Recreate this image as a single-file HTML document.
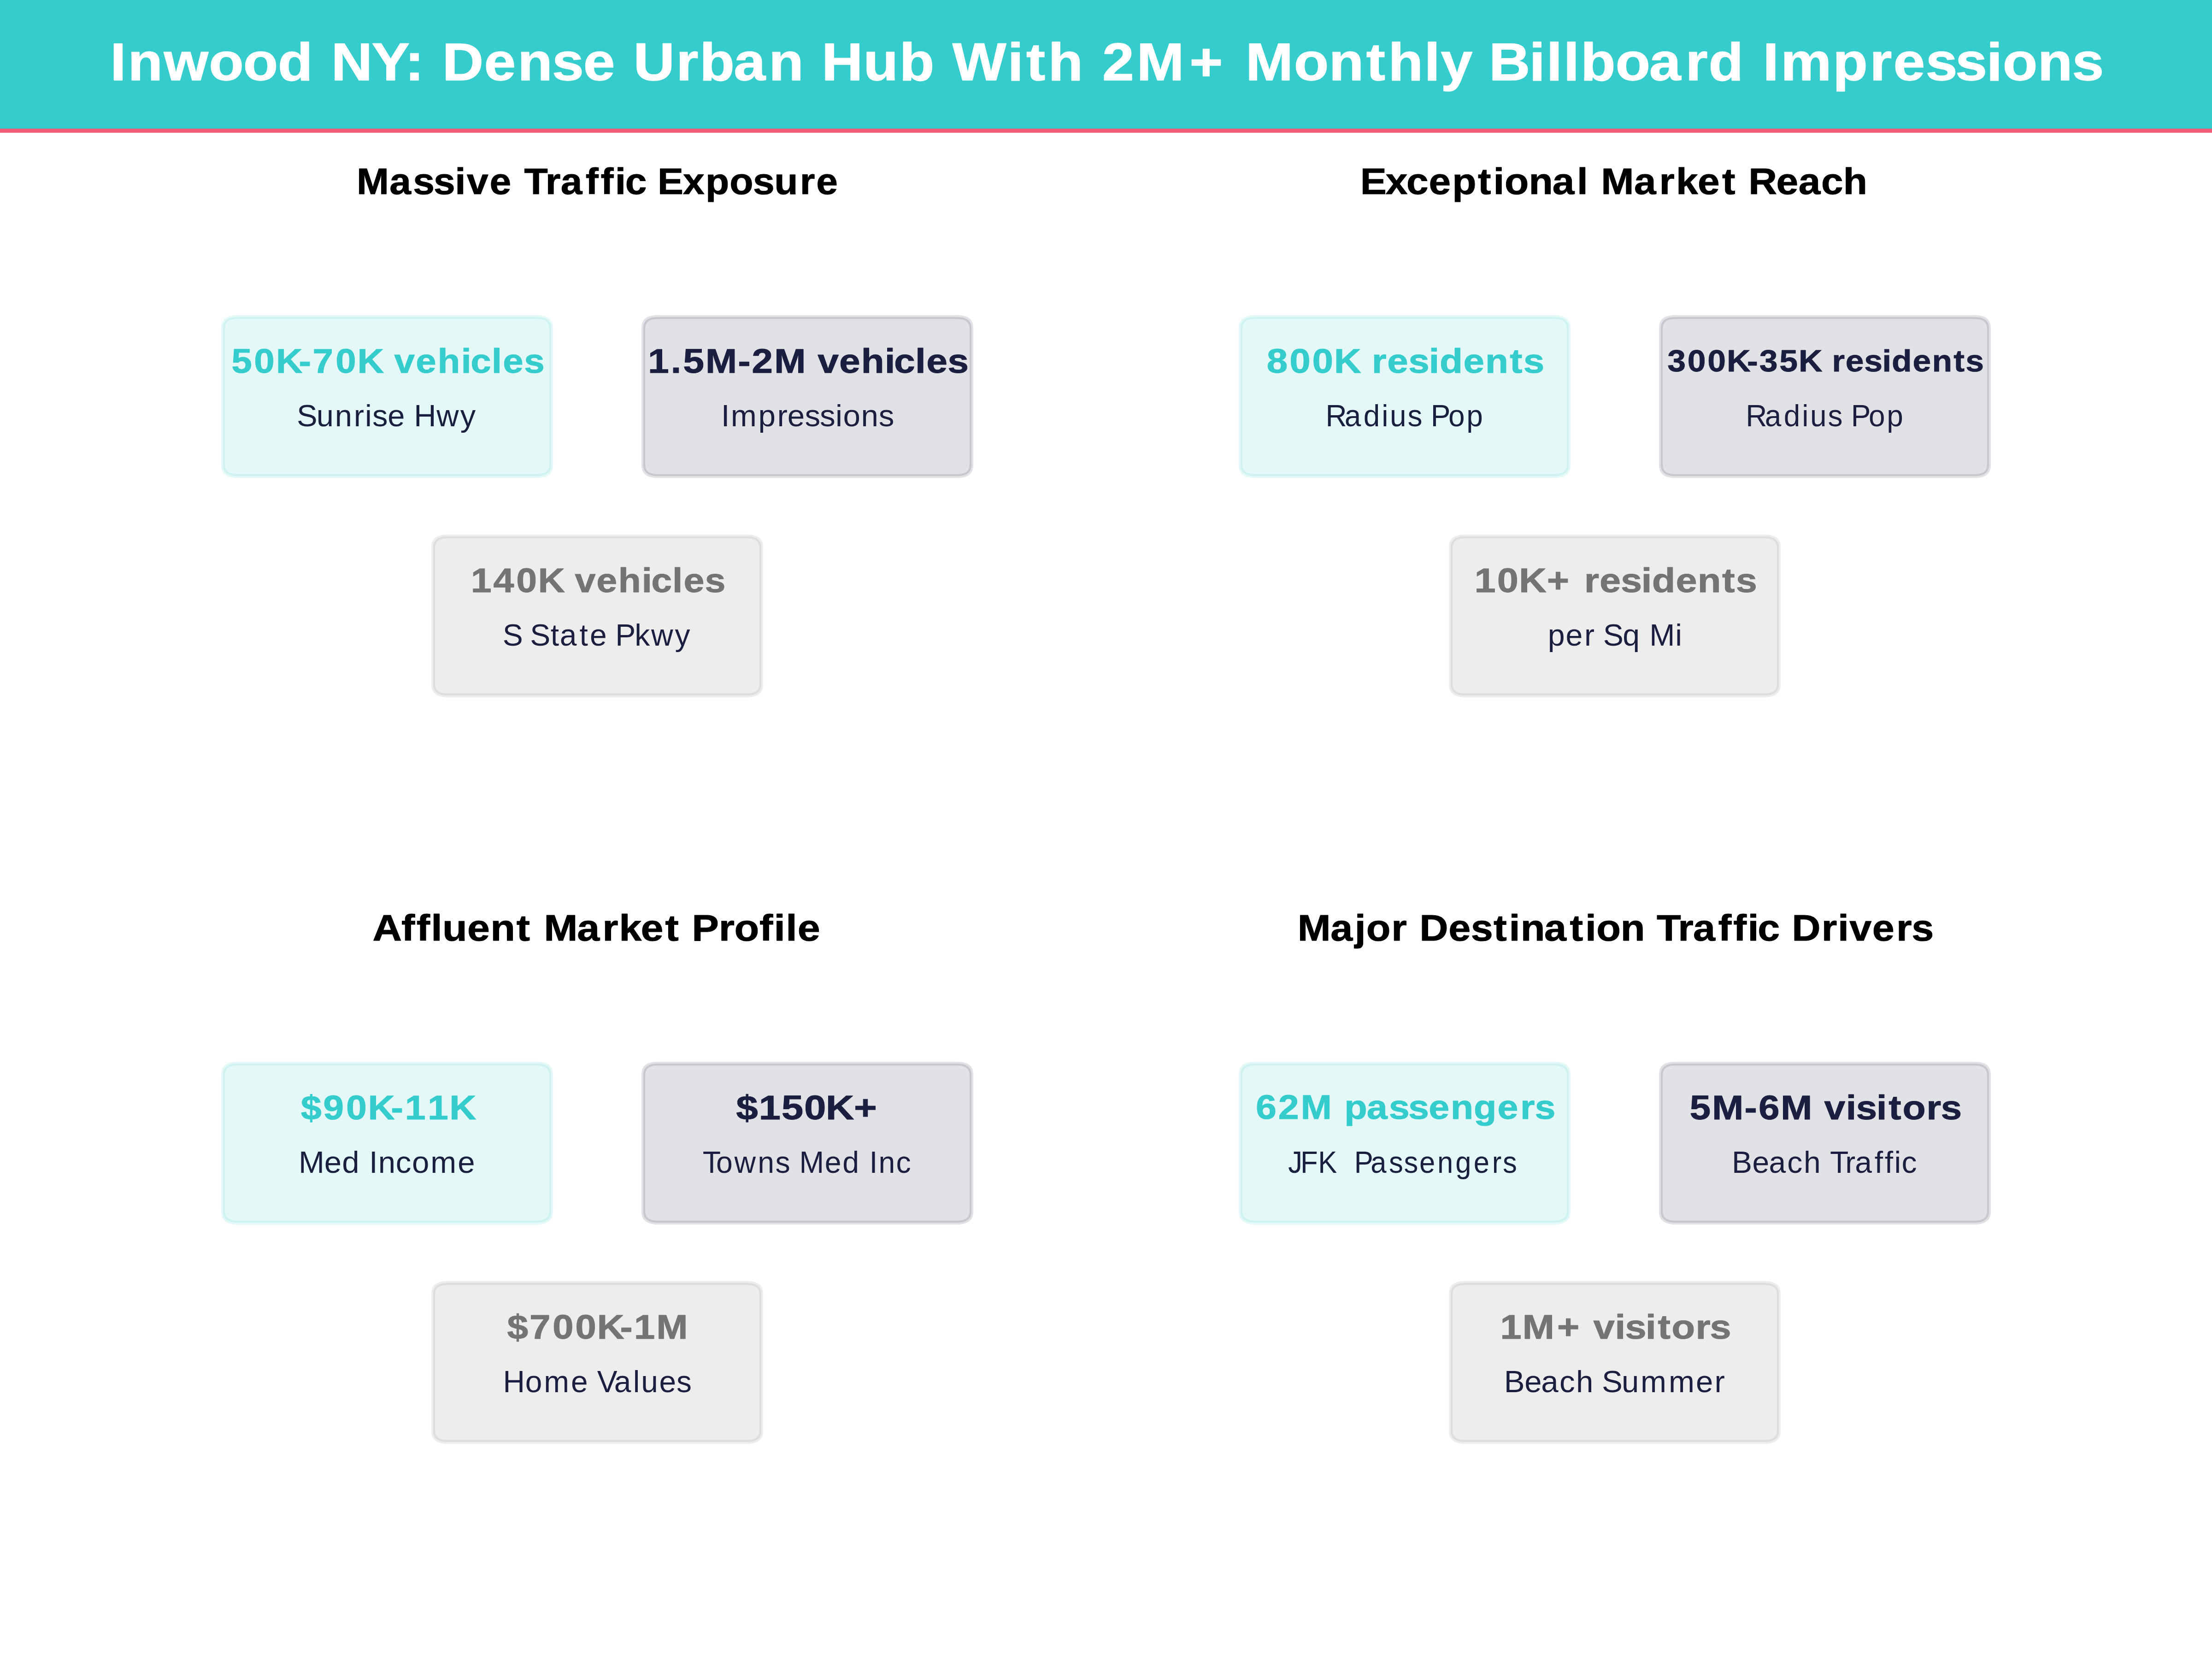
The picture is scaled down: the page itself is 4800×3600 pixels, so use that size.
<!DOCTYPE html>
<html lang="en">
<head>
<meta charset="utf-8">
<title>Inwood NY: Dense Urban Hub With 2M+ Monthly Billboard Impressions</title>
<style>
html,body{margin:0;padding:0;background:#ffffff;}
body{width:4800px;height:3600px;font-family:"Liberation Sans",sans-serif;}
svg{display:block;width:4800px;height:3600px;}
text{font-family:"Liberation Sans",sans-serif;white-space:pre;stroke-linejoin:round;}
.title,.heading,.value{font-weight:bold;}
.label{font-weight:normal;}
.card{stroke-width:8.33;fill-opacity:0.13;stroke-opacity:0.13;}
</style>
</head>
<body>
<svg width="4800" height="3600" viewBox="0 0 4800 3600" role="img" aria-label="Inwood NY billboard market infographic">
<rect x="0" y="0" width="4800" height="3600" fill="#ffffff"/>
<g id="header">
<rect x="0" y="0" width="4800" height="280" fill="#34CCCD"/>
<rect x="0" y="279.2" width="4800" height="8.9" fill="#F15E73"/>
<text class="title" transform="translate(0 173.6) scale(1.0827 1)" font-size="114.3" fill="#ffffff" stroke="#ffffff" stroke-width="1.37" x="220.9 256.2 328.5 418.6 487.4 557 628.3 663.8 745 811.7 850.8 886.5 970.3 1037.4 1106.4 1169.1 1235.3 1269.6 1355.1 1402.3 1470.6 1540.8 1611.3 1646.8 1730.5 1802.6 1872.8 1908.8 2019.4 2056.8 2100.8 2171.5 2209.3 2278.1 2384.1 2459.5 2496.5 2593.4 2663.5 2738.3 2782.4 2854.4 2887.8 2952.6 2984.2 3065.1 3099.4 3133.7 3168.1 3237.8 3305.3 3378.2 3424.4 3495.7 3533.2 3569.1 3673.5 3747.3 3794.7 3859.5 3919.1 3981.4 4013.9 4084 4153">Inwood NY: Dense Urban Hub With 2M+ Monthly Billboard Impressions</text>
</g>
<g id="panel-1">
<text class="heading" transform="translate(0 421) scale(1.0620 1)" font-size="79.1" fill="#000000" stroke="#000000" stroke-width="0.95" x="728.7 796 843.9 886 929.7 953.8 1000.4 1046.7 1071.2 1114.6 1145.7 1196.6 1227.3 1256.8 1277.6 1321.7 1343.6 1395.4 1441.6 1490.8 1538.6 1582.1 1634.4 1667.9">Massive Traffic Exposure</text>
<g class="stat">
<path class="card" d="M515 688H1165Q1196 688 1196 712V1009Q1196 1033 1165 1033H515Q484 1033 484 1009V712Q484 688 515 688Z" fill="#39C8C6" stroke="#39C8C6"/>
<text class="value" transform="translate(0 808.5) scale(1.0711 1)" font-size="74.7" fill="#34CCCD" stroke="#34CCCD" stroke-width="0.90" x="468.8 514.7 559 605.4 633.4 679.8 724.1 774.9 798.7 842.3 886.5 934 953.4 995.9 1018.9 1061.7">50K-70K vehicles</text>
<text class="label" transform="translate(0 925) scale(1.0149 1)" font-size="65.9" fill="#1A1F40" x="634.5 676.7 716 756.6 780.3 796.2 829 866.1 885 933.3 984.1">Sunrise Hwy</text>
</g>
<g class="stat">
<path class="card" d="M1427 688H2077Q2108 688 2108 712V1009Q2108 1033 2077 1033H1427Q1396 1033 1396 1009V712Q1396 688 1427 688Z" fill="#1A1F40" stroke="#1A1F40"/>
<text class="value" transform="translate(0 808.5) scale(1.1034 1)" font-size="74.7" fill="#1A1F40" stroke="#1A1F40" stroke-width="0.90" x="1274.3 1319.1 1343.4 1387.2 1451.2 1478.5 1522.5 1585.6 1608.1 1650.4 1693.3 1739.8 1758.2 1799.9 1821.8 1863.5">1.5M-2M vehicles</text>
<text class="label" transform="translate(0 925) scale(1.0224 1)" font-size="65.9" fill="#1A1F40" x="1530.4 1551 1609.5 1649.6 1671.3 1708.2 1740 1773.2 1789.4 1827.6 1865">Impressions</text>
</g>
<g class="stat">
<path class="card" d="M971 1164H1621Q1652 1164 1652 1188V1485Q1652 1509 1621 1509H971Q940 1509 940 1485V1188Q940 1164 971 1164Z" fill="#747474" stroke="#747474"/>
<text class="value" transform="translate(0 1284.5) scale(1.0823 1)" font-size="74.7" fill="#747474" stroke="#747474" stroke-width="0.90" x="944 989.1 1035.1 1078.8 1129.3 1152.7 1195.9 1239.6 1286.7 1305.8 1348 1370.6 1413.1">140K vehicles</text>
<text class="label" transform="translate(0 1401) scale(1.0017 1)" font-size="65.9" fill="#1A1F40" x="1088.9 1130.3 1148.3 1192.7 1212.7 1255.4 1277.9 1315.3 1333 1374.8 1410.6 1461.9">S State Pkwy</text>
</g>
</g>
<g id="panel-2">
<text class="heading" transform="translate(0 421) scale(1.0825 1)" font-size="79.1" fill="#000000" stroke="#000000" stroke-width="0.95" x="2726.7 2777.6 2819.3 2864.1 2911 2962.6 2993.6 3016.1 3064.6 3112.1 3161.1 3183.9 3209.5 3275.7 3326.2 3359.7 3403.2 3452.1 3482.2 3505.1 3560.8 3605.4 3650.7 3694.9">Exceptional Market Reach</text>
<g class="stat">
<path class="card" d="M2723 688H3373Q3404 688 3404 712V1009Q3404 1033 3373 1033H2723Q2692 1033 2692 1009V712Q2692 688 2723 688Z" fill="#39C8C6" stroke="#39C8C6"/>
<text class="value" transform="translate(0 808.5) scale(1.0968 1)" font-size="74.7" fill="#34CCCD" stroke="#34CCCD" stroke-width="0.90" x="2506.1 2551.2 2596.2 2639.2 2689.5 2714.1 2744.6 2786.5 2826.9 2848.2 2895.3 2938.6 2987.1 3014.1">800K residents</text>
<text class="label" transform="translate(0 925) scale(0.9710 1)" font-size="65.9" fill="#1A1F40" x="2962.3 3004.9 3047.1 3087.9 3106.1 3145.7 3178.5 3197.4 3236.8 3277.3">Radius Pop</text>
</g>
<g class="stat">
<path class="card" d="M3635 688H4285Q4316 688 4316 712V1009Q4316 1033 4285 1033H3635Q3604 1033 3604 1009V712Q3604 688 3635 688Z" fill="#1A1F40" stroke="#1A1F40"/>
<text class="value" transform="translate(0 806) scale(1.0871 1)" font-size="65.9" fill="#1A1F40" stroke="#1A1F40" stroke-width="0.79" x="3328.4 3368.4 3408.4 3446.7 3487.3 3511.9 3551.9 3590.2 3634.7 3656.7 3683.9 3721.1 3757 3776.1 3818 3856.5 3899.5 3923.6">300K-35K residents</text>
<text class="label" transform="translate(0 925) scale(0.9710 1)" font-size="65.9" fill="#1A1F40" x="3901.5 3944.2 3986.3 4027.1 4045.3 4084.9 4117.7 4136.6 4176 4216.5">Radius Pop</text>
</g>
<g class="stat">
<path class="card" d="M3179 1164H3829Q3860 1164 3860 1188V1485Q3860 1509 3829 1509H3179Q3148 1509 3148 1485V1188Q3148 1164 3179 1164Z" fill="#747474" stroke="#747474"/>
<text class="value" transform="translate(0 1284.5) scale(1.1114 1)" font-size="74.7" fill="#747474" stroke="#747474" stroke-width="0.90" x="2878.9 2923.2 2965.6 3020.4 3069 3093.1 3123.2 3164.5 3204.5 3225.4 3271.9 3314.6 3362.5 3389.1">10K+ residents</text>
<text class="label" transform="translate(0 1401) scale(1.0053 1)" font-size="65.9" fill="#1A1F40" x="3341.1 3379.7 3420 3442.6 3460.4 3502.8 3541.3 3560.4 3616">per Sq Mi</text>
</g>
</g>
<g id="panel-3">
<text class="heading" transform="translate(0 2041) scale(1.1126 1)" font-size="79.1" fill="#000000" stroke="#000000" stroke-width="0.95" x="726.6 782.9 812.2 840.5 862.8 911.4 956.6 1007.3 1036.9 1060.9 1125.6 1174.9 1207.3 1249.7 1297.5 1327.2 1349.4 1402 1432.3 1481.3 1509.5 1532.6 1555.6">Affluent Market Profile</text>
<g class="stat">
<path class="card" d="M515 2308H1165Q1196 2308 1196 2332V2629Q1196 2653 1165 2653H515Q484 2653 484 2629V2332Q484 2308 515 2308Z" fill="#39C8C6" stroke="#39C8C6"/>
<text class="value" transform="translate(0 2428.5) scale(1.0813 1)" font-size="74.7" fill="#34CCCD" stroke="#34CCCD" stroke-width="0.90" x="603.7 648.6 694.6 738.4 784.4 812.6 858.2 901.9">$90K-11K</text>
<text class="label" transform="translate(0 2545) scale(1.0194 1)" font-size="65.9" fill="#1A1F40" x="635.8 690.3 728.2 766.3 785.7 805.1 842.4 876.9 916.5 974.3">Med Income</text>
</g>
<g class="stat">
<path class="card" d="M1427 2308H2077Q2108 2308 2108 2332V2629Q2108 2653 2077 2653H1427Q1396 2653 1396 2629V2332Q1396 2308 1427 2308Z" fill="#1A1F40" stroke="#1A1F40"/>
<text class="value" transform="translate(0 2428.5) scale(1.1454 1)" font-size="74.7" fill="#1A1F40" stroke="#1A1F40" stroke-width="0.90" x="1394.6 1437.4 1480.5 1523.5 1564.4 1617.8">$150K+</text>
<text class="label" transform="translate(0 2545) scale(0.9773 1)" font-size="65.9" fill="#1A1F40" x="1560.2 1590.2 1630.4 1682.5 1721.5 1754.2 1774.7 1831.2 1870.7 1909.7 1930.3 1950.9 1989.7">Towns Med Inc</text>
</g>
<g class="stat">
<path class="card" d="M971 2784H1621Q1652 2784 1652 2808V3105Q1652 3129 1621 3129H971Q940 3129 940 3105V2808Q940 2784 971 2784Z" fill="#747474" stroke="#747474"/>
<text class="value" transform="translate(0 2904.5) scale(1.0990 1)" font-size="74.7" fill="#747474" stroke="#747474" stroke-width="0.90" x="1001.4 1045.6 1090.9 1135.7 1178.7 1224.3 1251.8 1295.9">$700K-1M</text>
<text class="label" transform="translate(0 3021) scale(0.9989 1)" font-size="65.9" fill="#1A1F40" x="1092.7 1140.9 1181.5 1240.3 1277.8 1297.1 1334.1 1375.3 1392.7 1432 1469.7">Home Values</text>
</g>
</g>
<g id="panel-4">
<text class="heading" transform="translate(0 2041) scale(1.0918 1)" font-size="79.1" fill="#000000" stroke="#000000" stroke-width="0.95" x="2578.9 2644.6 2692.6 2715.4 2765.5 2797 2821.3 2878.9 2923.4 2968.4 2999.1 3022.2 3069.3 3120 3150.8 3172.9 3221 3269.6 3292.7 3335.1 3365.2 3415 3444.9 3473.6 3493.5 3537.1 3561.3 3620.3 3652.7 3675.9 3721.2 3769.1 3799.5">Major Destination Traffic Drivers</text>
<g class="stat">
<path class="card" d="M2723 2308H3373Q3404 2308 3404 2332V2629Q3404 2653 3373 2653H2723Q2692 2653 2692 2629V2332Q2692 2308 2723 2308Z" fill="#39C8C6" stroke="#39C8C6"/>
<text class="value" transform="translate(0 2428) scale(1.0838 1)" font-size="74.7" fill="#34CCCD" stroke="#34CCCD" stroke-width="0.90" x="2514.2 2559.4 2604.3 2668 2691.7 2736.4 2780.8 2819.7 2860.6 2904.4 2950.7 2998.3 3044 3072.9">62M passengers</text>
<text class="label" xml:space="preserve" transform="translate(0 2545) scale(0.9341 1)" font-size="65.9" fill="#1A1F40" x="2992.5 3021 3062 3104.3 3125.6 3146.2 3184 3226.6 3261.5 3297.3 3339.1 3381 3423.4 3466.3 3491.1">JFK  Passengers</text>
</g>
<g class="stat">
<path class="card" d="M3635 2308H4285Q4316 2308 4316 2332V2629Q4316 2653 4285 2653H3635Q3604 2653 3604 2629V2332Q3604 2308 3635 2308Z" fill="#1A1F40" stroke="#1A1F40"/>
<text class="value" transform="translate(0 2428.5) scale(1.1013 1)" font-size="74.7" fill="#1A1F40" stroke="#1A1F40" stroke-width="0.90" x="3329.3 3373.2 3437.3 3464.9 3508.7 3571.9 3594.5 3637 3657.1 3697.3 3721.3 3748.7 3795.7 3824.1">5M-6M visitors</text>
<text class="label" transform="translate(0 2545) scale(1.0021 1)" font-size="65.9" fill="#1A1F40" x="3750.1 3794.6 3830.4 3870.1 3905.9 3944 3962.8 3995.9 4016.9 4059.3 4081.3 4102 4117.8">Beach Traffic</text>
</g>
<g class="stat">
<path class="card" d="M3179 2784H3829Q3860 2784 3860 2808V3105Q3860 3129 3829 3129H3179Q3148 3129 3148 3105V2808Q3148 2784 3179 2784Z" fill="#747474" stroke="#747474"/>
<text class="value" transform="translate(0 2904.5) scale(1.1170 1)" font-size="74.7" fill="#747474" stroke="#747474" stroke-width="0.90" x="2914.3 2957.5 3024.9 3073.4 3095.4 3137.3 3157 3196.8 3220.5 3247.4 3293.8 3321.7">1M+ visitors</text>
<text class="label" transform="translate(0 3021) scale(1.0205 1)" font-size="65.9" fill="#1A1F40" x="3198.1 3241.8 3277 3316 3351.2 3388.9 3406.2 3448.2 3488.6 3548.3 3606 3645.8">Beach Summer</text>
</g>
</g>
</svg>
</body>
</html>
